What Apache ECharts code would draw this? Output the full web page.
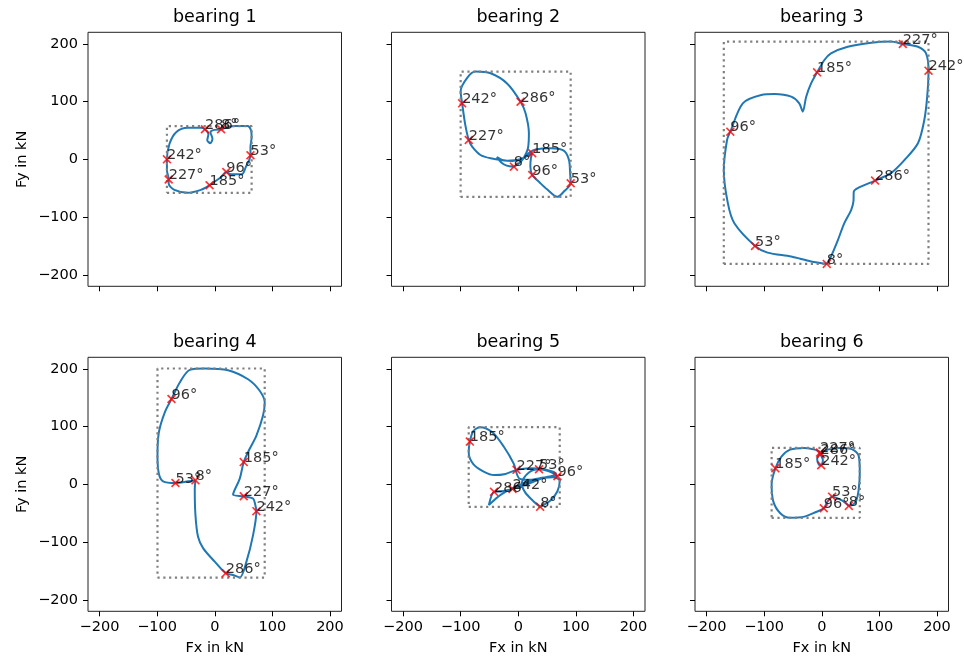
<!DOCTYPE html>
<html>
<head>
  <meta charset="UTF-8">
  <script src="https://cdn.jsdelivr.net/npm/echarts@6/dist/echarts.min.js"></script>
</head>
<body style="margin:0;background:#fff">
  <div id="main" style="width:964px;height:660px;"></div>
  <script>
    // angle labels for the marked positions (same order in every bearing)
    var angles = ['8°', '53°', '96°', '185°', '227°', '242°', '286°'];
    var tickValues = [-200, -100, 0, 100, 200];
    var titles = ['bearing 1', 'bearing 2', 'bearing 3', 'bearing 4', 'bearing 5', 'bearing 6'];

    // force curves (kN)
    var b1Curve = [[11,51.7],[34,57.5],[57,57.5],[63,50],[64,38.5],[62,21],[62,7],[54,-13],[47,-26],[28,-26],[20,-22],[11,-30.5],
      [-0.6,-39],[-8.7,-44.8],[-24,-53],[-47,-58],[-70,-53],[-80,-42],[-80,-34.5],[-83,-19],[-83,0],[-78.5,27],[-67,47],
      [-47,54.6],[-24,54.6],[-16.7,51.7],[-11,44],[-13,33],[-7.5,28],[-4,35.6],[-7.5,47],[-0.6,51]];
    var b1Marks = [[11,52],[62,7],[20,-22],[-9,-45],[-80,-35],[-83,0],[-17,52]];

    var b2Curve = [[-7.6,-12.8],[-20,-11],[-30,-5],[-37,4],[-28,-1],[-10,-3],[8,2],[20,12],[30,17],[56,19],[79,15],[88,-1],
      [90,-24],[91,-41.5],[80,-55],[68,-65],[50,-52],[38,-41],[24.3,-27.2],[21,-12],[22,2],[24.3,10.4],[18.5,7.4],[4,0],
      [-19,-2.4],[-48,1.7],[-65.6,7.4],[-80,21.8],[-85.9,33.4],[-92,60],[-97.4,97],[-100,118],[-88,142],[-74,152],[-48,149],
      [-19,131],[4,99.7],[12.7,79.6],[18.5,45],[16.8,19],[8,0],[0,-8]];
    var b2Marks = [[-7.6,-12.8],[91,-41.5],[24.3,-27.2],[24.3,10.4],[-85.9,33.4],[-97.4,97],[4,99.7]];

    var b3Curve = [[8.7,-181.2],[-18.5,-177],[-53,-168.5],[-94,-161.6],[-115.8,-150],[-151.7,-110.8],[-163,-76],[-170,-18.5],
      [-164.4,33.5],[-158.7,47.9],[-137,97],[-105,111.4],[-82,113],[-53,108.5],[-39,97],[-33,82.5],[-27,108.5],[-18.5,131.6],
      [-8.1,150.6],[4.6,172],[16,183.5],[45,195],[86,202],[120,204],[140.7,199.7],[167,195],[181,183.5],[185.3,153.5],
      [183,108.5],[178,68],[167,27.7],[143.6,-1.2],[120,-24],[92.6,-36.9],[62.5,-50],[55.6,-56],[55,-73],[51,-88],
      [39,-111],[28,-140],[16,-168.5]];
    var b3Marks = [[8.7,-181.2],[-115.8,-150],[-158.7,47.9],[-8.1,150.6],[140.7,199.7],[185.3,153.5],[92.6,-36.9]];

    var b4Curve = [[-33.5,6.9],[-46,5.2],[-68.2,2.3],[-89.6,5.2],[-97,18.4],[-99.4,50],[-97,90],[-86.7,124.7],[-75.1,147.7],
      [-60.7,176.4],[-43.4,198.3],[-17.3,200.6],[23,197.7],[57.8,182],[78,162],[86.7,142],[83.8,119],[72.3,84.5],[60.7,61.5],
      [50.3,38.5],[43.4,9.8],[31.8,-17.8],[50.3,-20.7],[66.5,-24.7],[70.5,-36.2],[72.3,-46.6],[66.5,-88],[55,-134],
      [43.4,-161.5],[31.8,-157],[19.1,-154],[0,-134],[-20,-111],[-29,-91],[-33.5,-53.4],[-34.7,-7.5]];
    var b4Marks = [[-33.5,6.9],[-68.2,2.3],[-75.1,147.7],[50.3,38.5],[50.3,-20.7],[72.3,-46.6],[19.1,-154]];

    var b5Curve = [[38,-39],[25,-28],[12,-14],[6,2],[18,20],[36,26],[52,23],[68,14],[45,12],[20,8],[2,10],[-8,36],[-25,65],
      [-45,90],[-66,99],[-78,92],[-84,74],[-86,55],[-78,35],[-60,22],[-42,16],[-22,18],[-3,25],[20,28],[45,26],[66,18],
      [40,10],[15,0],[-10,-8],[-28,-12],[-42,-13],[-51,-36],[-30,-18],[0,-2],[30,8],[60,12],[72,6],[68,-12],[56,-28]];
    var b5Marks = [[38,-39],[36,26],[68,14],[-84,74],[-3,25],[-10,-8],[-42,-13]];

    var b6Curve = [[47,-37.5],[35,-28],[18,-21.4],[10,-30],[3.5,-41.5],[-10,-48],[-30,-56],[-55,-58],[-72,-50],[-84,-30],
      [-87,0],[-80.5,27.7],[-70,48],[-55,60],[-30,63],[-12,60],[-3,55],[-8,44],[-5,34],[-1,33],[2,42],[-2,52],[10,60],
      [30,63],[52,61],[64,50],[66,20],[64,-10],[60,-28],[55,-35]];
    var b6Marks = [[47,-37.5],[18,-21.4],[3.5,-41.5],[-80.5,27.7],[-3,55],[-1,33],[-2,52]];

    var curves = [b1Curve, b2Curve, b3Curve, b4Curve, b5Curve, b6Curve];
    var marks = [b1Marks, b2Marks, b3Marks, b4Marks, b5Marks, b6Marks];

    var colLeft = [88, 391.5, 695];
    var rowTop = [32.3, 357.3];
    var W = 253.5, H = 254;
    var font = 'DejaVu Sans';

    function boundsOf(pts) {
      var xs = pts.map(function (p) { return p[0]; });
      var ys = pts.map(function (p) { return p[1]; });
      var x0 = Math.min.apply(null, xs), x1 = Math.max.apply(null, xs);
      var y0 = Math.min.apply(null, ys), y1 = Math.max.apply(null, ys);
      return [[x0, y0], [x1, y0], [x1, y1], [x0, y1], [x0, y0]];
    }
    function minus(v) { return String(v).replace('-', '\u2212'); }

    var grids = [], xAxes = [], yAxes = [], series = [], titleList = [];
    for (var i = 0; i < 6; i++) {
      var r = Math.floor(i / 3), c = i % 3;
      grids.push({ left: colLeft[c], top: rowTop[r], width: W, height: H,
        show: true, borderColor: '#222', borderWidth: 1, backgroundColor: '#fff' });
      titleList.push({ text: titles[i], left: colLeft[c] + W / 2, top: rowTop[r] - 24, textAlign: 'center', padding: 0,
        textStyle: { fontFamily: font, fontSize: 17.5, fontWeight: 'normal', color: '#000' } });
      var common = {
        type: 'value', gridIndex: i, min: -220, max: 220,
        splitLine: { show: false },
        axisLine: { show: false, onZero: false },
        axisTick: { show: true, length: 5, lineStyle: { color: '#000', width: 1 }, customValues: tickValues },
        axisLabel: { customValues: tickValues, fontFamily: font, fontSize: 14.5, color: '#000' }
      };
      var xa = JSON.parse(JSON.stringify(common));
      xa.position = 'bottom';
      xa.axisLabel.formatter = minus;
      xa.axisLabel.show = (r === 1);
      xa.axisLabel.margin = 8;
      if (r === 1) {
        xa.name = 'Fx in kN'; xa.nameLocation = 'middle'; xa.nameGap = 29;
        xa.nameTextStyle = { fontFamily: font, fontSize: 14.5, color: '#000' };
      }
      var ya = JSON.parse(JSON.stringify(common));
      ya.position = 'left';
      ya.axisLabel.formatter = minus;
      ya.axisLabel.show = (c === 0);
      ya.axisLabel.margin = 10;
      if (c === 0) {
        ya.name = 'Fy in kN'; ya.nameLocation = 'middle'; ya.nameGap = 58;
        ya.nameTextStyle = { fontFamily: font, fontSize: 14.5, color: '#000' };
      }
      xAxes.push(xa);
      yAxes.push(ya);

      series.push({
        type: 'line', xAxisIndex: i, yAxisIndex: i,
        data: curves[i].concat([curves[i][0]]),
        smooth: 0.3, showSymbol: false, symbol: 'none',
        lineStyle: { color: '#1f77b4', width: 2 }, z: 2
      });
      series.push({
        type: 'scatter', xAxisIndex: i, yAxisIndex: i,
        data: marks[i],
        symbol: 'path://M0,1.3L1.3,0L5,3.7L8.7,0L10,1.3L6.3,5L10,8.7L8.7,10L5,6.3L1.3,10L0,8.7L3.7,5Z',
        symbolSize: 9,
        itemStyle: { color: '#ff0000' },
        label: {
          show: true, position: [4.5, 8], align: 'left', verticalAlign: 'bottom',
          formatter: function (p) { return angles[p.dataIndex]; },
          fontFamily: font, fontSize: 14.5, color: '#000'
        },
        z: 4
      });
      series.push({
        type: 'line', xAxisIndex: i, yAxisIndex: i,
        data: boundsOf(curves[i]),
        showSymbol: false, symbol: 'none',
        lineStyle: { color: '#808080', width: 2.2, type: [2.2, 3.6] }, z: 3
      });
    }

    var myChart = echarts.init(document.getElementById('main'));
    myChart.setOption({
      animation: false,
      backgroundColor: '#fff',
      title: titleList,
      grid: grids,
      xAxis: xAxes,
      yAxis: yAxes,
      series: series
    });
  </script>
</body>
</html>
